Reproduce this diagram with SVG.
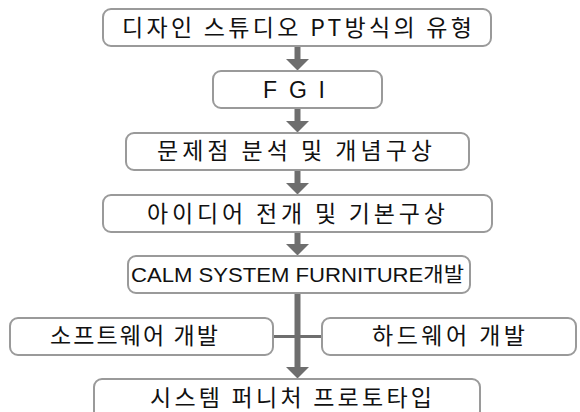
<svg xmlns="http://www.w3.org/2000/svg" width="580" height="412" viewBox="0 0 580 412">
<defs>
<style>
.box{fill:#fff;stroke:#9a9a9a;stroke-width:2}
.t{font-family:"Noto Sans CJK KR","Noto Sans",sans-serif;fill:#111;text-anchor:start}
.k{font-size:23px}
.c{font-family:"Liberation Sans","Noto Sans CJK KR",sans-serif;font-size:20px;fill:#111}
.shaft{stroke:#6e6e6e;stroke-width:6;fill:none}
.hline{stroke:#6e6e6e;stroke-width:3;fill:none}
</style>
<marker id="ah" markerUnits="userSpaceOnUse" viewBox="0 0 12 24" markerWidth="12" markerHeight="24" refX="0.5" refY="12" orient="auto">
<path d="M0,0 L12,12 L0,24 z" fill="#6e6e6e"/>
</marker>
</defs>
<rect width="580" height="412" fill="#fff"/>
<g id="connectors">
<line class="shaft" x1="297.5" y1="46" x2="297.5" y2="59" marker-end="url(#ah)"/>
<line class="shaft" x1="297.5" y1="108" x2="297.5" y2="121" marker-end="url(#ah)"/>
<line class="shaft" x1="297.5" y1="170" x2="297.5" y2="183" marker-end="url(#ah)"/>
<line class="shaft" x1="297.5" y1="232" x2="297.5" y2="244" marker-end="url(#ah)"/>
<line class="shaft" x1="297.5" y1="293" x2="297.5" y2="367" marker-end="url(#ah)"/>
<line class="hline" x1="273" y1="336.5" x2="322" y2="336.5"/>
</g>
<g id="n1">
<rect class="box" x="103" y="9" width="388" height="37" rx="8"/>
<text class="t k" x="122" y="36" textLength="350" lengthAdjust="spacing">디자인 스튜디오 PT방식의 유형</text>
</g>
<g id="n2">
<rect class="box" x="213" y="71" width="169" height="37" rx="8"/>
<text class="t" x="263" y="98" style="font-family:'Liberation Sans',sans-serif;font-size:23px" textLength="62" lengthAdjust="spacing">F G I</text>
</g>
<g id="n3">
<rect class="box" x="126" y="133" width="343" height="37" rx="8"/>
<text class="t k" x="157" y="159" textLength="275" lengthAdjust="spacing">문제점 분석 및 개념구상</text>
</g>
<g id="n4">
<rect class="box" x="103" y="195" width="389" height="37" rx="8"/>
<text class="t k" x="147" y="222" textLength="298" lengthAdjust="spacing">아이디어 전개 및 기본구상</text>
</g>
<g id="n5">
<rect class="box" x="128" y="256" width="342" height="37" rx="8"/>
<text class="c" x="131" y="282" textLength="333" lengthAdjust="spacingAndGlyphs">CALM SYSTEM FURNITURE개발</text>
</g>
<g id="n6">
<rect class="box" x="10" y="318" width="263" height="37" rx="8"/>
<text class="t k" x="50" y="344" textLength="168" lengthAdjust="spacing">소프트웨어 개발</text>
</g>
<g id="n7">
<rect class="box" x="322" y="318" width="254" height="37" rx="8"/>
<text class="t k" x="372" y="344" textLength="153" lengthAdjust="spacing">하드웨어 개발</text>
</g>
<g id="n8">
<rect class="box" x="94" y="379" width="386" height="40" rx="8"/>
<text class="t k" x="150" y="406" textLength="282" lengthAdjust="spacing">시스템 퍼니처 프로토타입</text>
</g>
</svg>
